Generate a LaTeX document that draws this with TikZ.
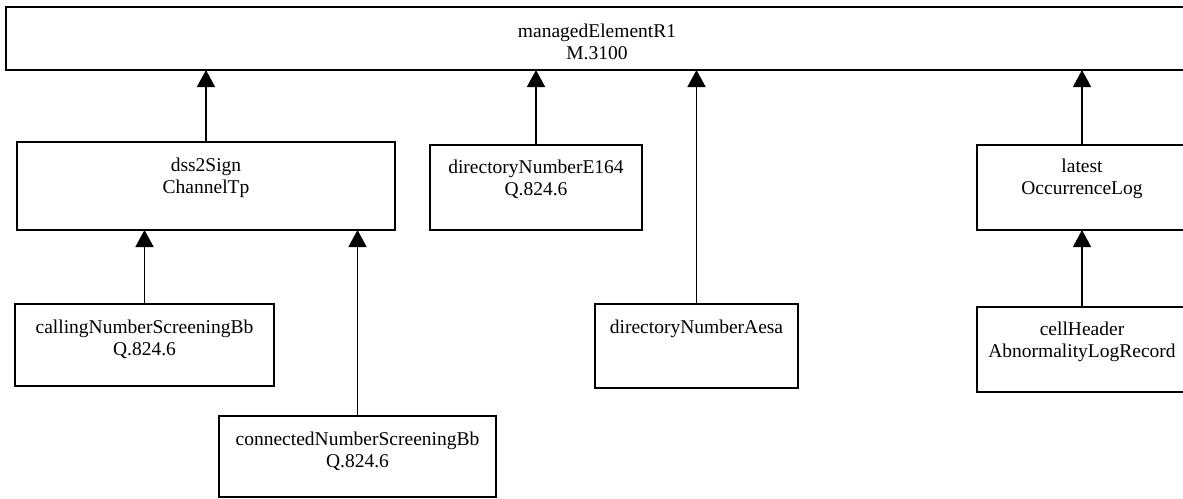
\documentclass[tikz,border=0pt]{standalone}
\usepackage{fontspec}
\setmainfont{Liberation Serif}
\usetikzlibrary{arrows.meta,positioning}
\begin{document}
\begin{tikzpicture}[x=1pt,y=-1pt,
  box/.style={draw=black,line width=1.3pt,rectangle,inner sep=0pt,outer sep=0pt},
  txt/.style={inner sep=0pt,outer sep=0pt,align=center,font=\fontsize{19.5}{22}\selectfont},
  inherit/.style={line width=1.6pt,-{Triangle[width=18pt,length=17pt]}}]
\useasboundingbox (0,0) rectangle (1183,498);
\begin{scope}
\clip (0,0) rectangle (1183,498);
% class boxes (the right-hand ones run past the sheet edge)
\node[box,minimum width=1182pt,minimum height=63pt] (me) at (597,38.5) {};
\node[box,minimum width=378pt,minimum height=88pt] (dss) at (206,186) {};
\node[box,minimum width=212pt,minimum height=85pt] (e164) at (536,187.5) {};
\node[box,minimum width=210pt,minimum height=85pt] (occ) at (1082,187.5) {};
\node[box,minimum width=259pt,minimum height=82pt] (calling) at (144.5,345) {};
\node[box,minimum width=277pt,minimum height=81pt] (connected) at (357.5,456.5) {};
\node[box,minimum width=203pt,minimum height=84pt] (aesa) at (696.5,346) {};
\node[box,minimum width=210pt,minimum height=85pt] (cell) at (1082,349.5) {};
\end{scope}
% class names
\node[txt,below=17pt of me.north] (meT) {managedElementR1\\M.3100};
\node[txt,below=16pt of dss.north] (dssT) {dss2Sign\\ChannelTp};
\node[txt,below=15pt of e164.north] (e164T) {directoryNumberE164\\Q.824.6};
\node[txt,below=14pt of occ.north] (occT) {latest\\OccurrenceLog};
\node[txt,below=16pt of calling.north] (callingT) {callingNumberScreeningBb\\Q.824.6};
\node[txt,below=16pt of connected.north] (connectedT) {connectedNumberScreeningBb\\Q.824.6};
\node[txt,below=16pt of aesa.north] (aesaT) {directoryNumberAesa};
\node[txt,below=15pt of cell.north] (cellT) {cellHeader\\AbnormalityLogRecord};
% inheritance arrows
\draw[inherit] (dss.north) -- (dss.north |- me.south);
\draw[inherit] (e164.north) -- (e164.north |- me.south);
\draw[inherit] (aesa.north) -- (aesa.north |- me.south);
\draw[inherit] (occ.north) -- (occ.north |- me.south);
\draw[inherit] (calling.north) -- (calling.north |- dss.south);
\draw[inherit] (connected.north) -- (connected.north |- dss.south);
\draw[inherit] (cell.north) -- (cell.north |- occ.south);
\end{tikzpicture}
\end{document}
